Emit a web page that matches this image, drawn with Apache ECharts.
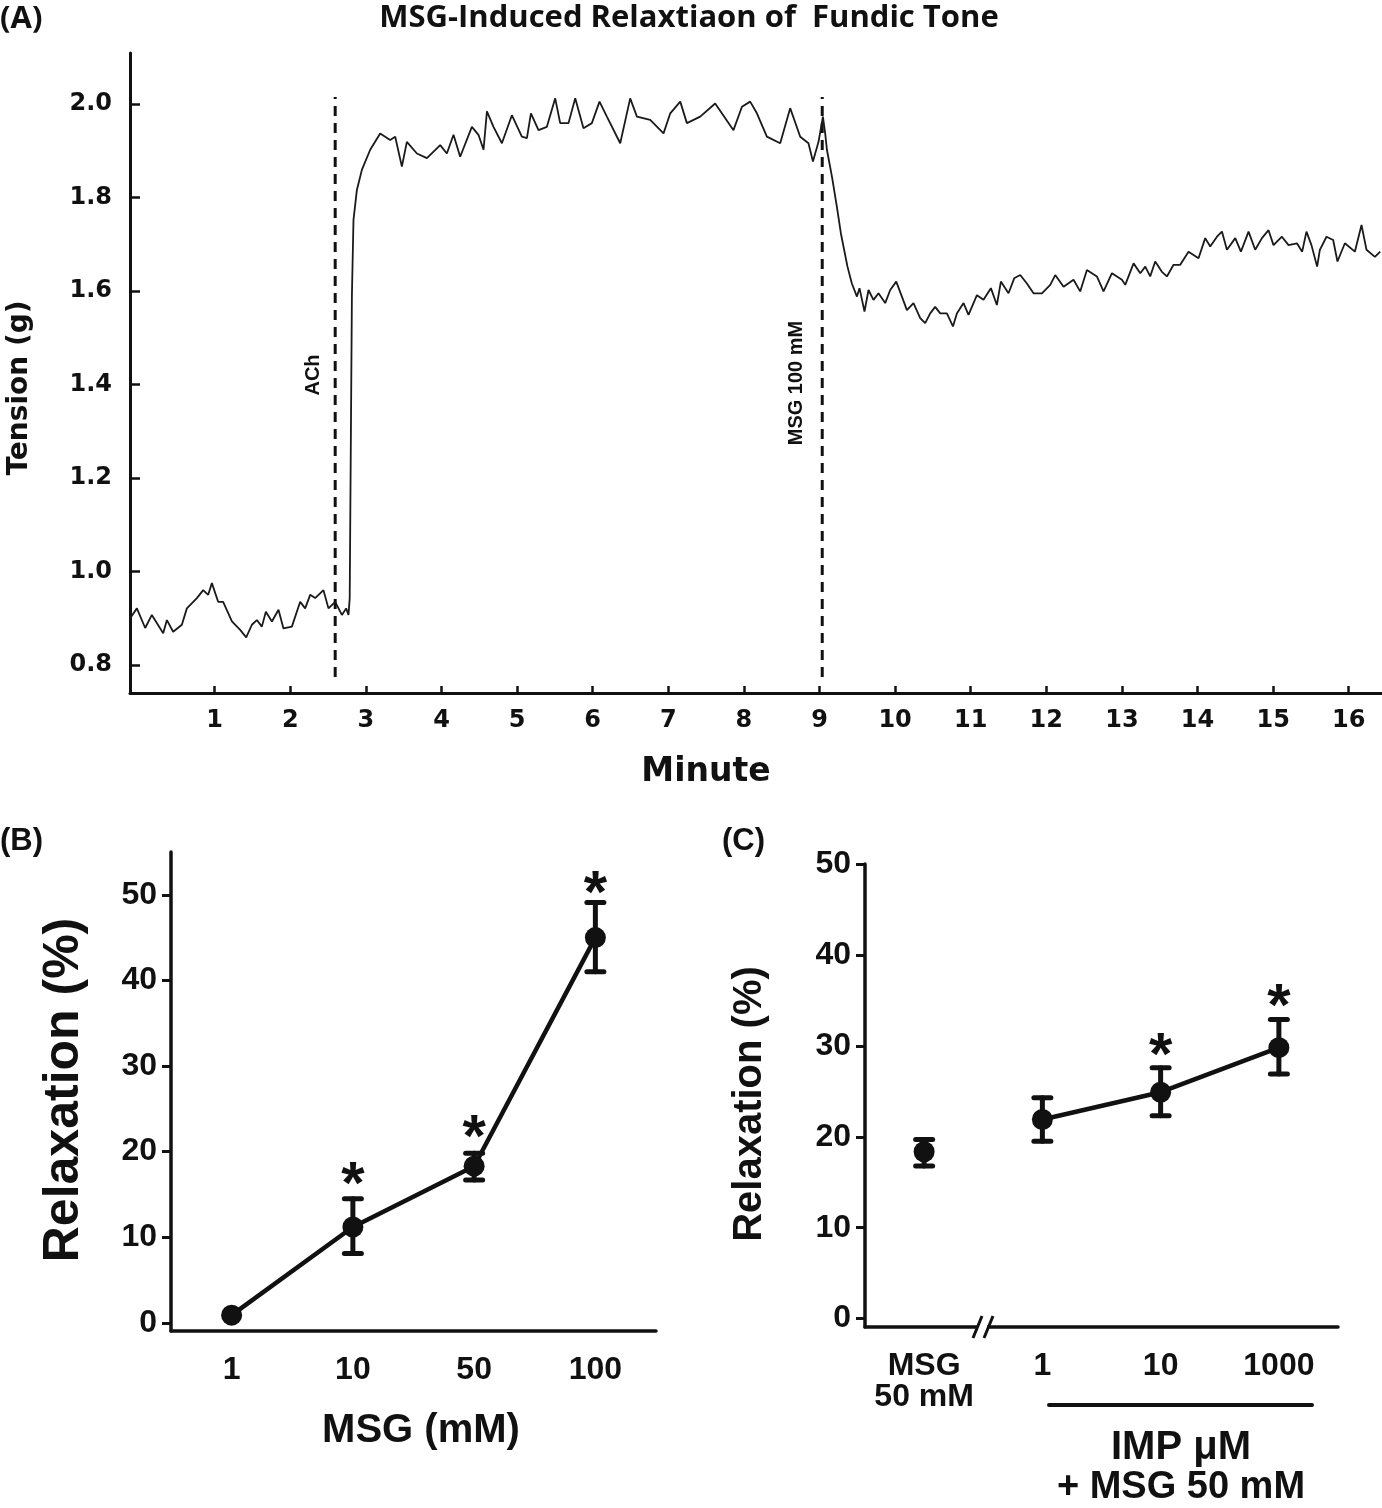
<!DOCTYPE html>
<html><head><meta charset="utf-8">
<script src="https://cdn.jsdelivr.net/npm/echarts@6/dist/echarts.min.js"></script>
<style>html,body{margin:0;padding:0;background:#fff}#c{width:1382px;height:1508px}</style>
</head><body><div id="c"></div>
<script>
// ---------- Panel A: tension trace (minute, g) ----------
const traceSamples = [
[-0.118,0.900],[-0.029,0.921],[0.081,0.879],[0.169,0.907],[0.319,0.868],[0.368,0.896],[0.451,0.871],[0.566,0.886],
[0.632,0.921],[0.765,0.943],[0.848,0.960],[0.914,0.950],[0.963,0.975],[1.046,0.935],[1.112,0.935],[1.228,0.893],
[1.337,0.875],[1.417,0.859],[1.492,0.886],[1.558,0.896],[1.624,0.882],[1.677,0.914],[1.757,0.893],[1.844,0.918],
[1.910,0.878],[2.021,0.882],[2.131,0.935],[2.197,0.921],[2.263,0.950],[2.329,0.943],[2.439,0.960],[2.505,0.921],
[2.594,0.935],[2.683,0.907],[2.739,0.921],[2.770,0.907],[2.786,0.943],[2.815,1.588],[2.836,1.752],[2.881,1.816],
[2.947,1.859],[3.057,1.902],[3.189,1.937],[3.321,1.923],[3.388,1.930],[3.476,1.866],[3.542,1.919],[3.675,1.894],
[3.807,1.884],[3.983,1.912],[4.071,1.894],[4.159,1.934],[4.247,1.887],[4.402,1.951],[4.489,1.934],[4.556,1.902],
[4.601,1.984],[4.688,1.951],[4.799,1.916],[4.931,1.976],[5.063,1.930],[5.130,1.927],[5.183,1.980],[5.283,1.944],
[5.394,1.951],[5.504,2.012],[5.570,1.959],[5.680,1.959],[5.769,2.012],[5.878,1.948],[5.989,1.959],[6.090,2.005],
[6.188,1.973],[6.364,1.916],[6.496,2.012],[6.585,1.973],[6.761,1.966],[6.937,1.937],[7.026,1.980],[7.158,2.005],
[7.246,1.959],[7.422,1.973],[7.620,2.001],[7.862,1.944],[7.974,1.994],[8.083,2.005],[8.172,1.980],[8.304,1.930],
[8.480,1.916],[8.612,1.991],[8.745,1.930],[8.854,1.916],[8.913,1.877],[8.987,1.919],[9.045,1.973],[9.075,1.937],
[9.098,1.902],[9.164,1.845],[9.230,1.780],[9.283,1.723],[9.317,1.695],[9.370,1.652],[9.428,1.616],[9.495,1.588],
[9.529,1.606],[9.595,1.556],[9.648,1.602],[9.714,1.581],[9.780,1.595],[9.869,1.574],[9.935,1.602],[10.015,1.620],
[10.090,1.588],[10.156,1.559],[10.243,1.574],[10.332,1.542],[10.398,1.531],[10.464,1.552],[10.530,1.566],[10.597,1.552],
[10.685,1.552],[10.765,1.524],[10.817,1.552],[10.905,1.574],[10.971,1.549],[11.082,1.591],[11.169,1.581],[11.267,1.606],
[11.346,1.570],[11.399,1.620],[11.500,1.595],[11.575,1.627],[11.655,1.634],[11.743,1.616],[11.831,1.595],[11.942,1.595],
[12.052,1.613],[12.118,1.634],[12.228,1.609],[12.360,1.624],[12.448,1.599],[12.537,1.645],[12.669,1.631],[12.757,1.599],
[12.868,1.638],[13.000,1.624],[13.044,1.613],[13.154,1.659],[13.243,1.638],[13.309,1.652],[13.374,1.631],[13.440,1.663],
[13.529,1.641],[13.595,1.631],[13.683,1.656],[13.771,1.656],[13.881,1.684],[14.013,1.670],[14.102,1.713],[14.168,1.695],
[14.257,1.716],[14.323,1.727],[14.389,1.688],[14.499,1.713],[14.574,1.684],[14.675,1.727],[14.763,1.688],[14.852,1.713],
[14.939,1.730],[15.005,1.698],[15.116,1.716],[15.204,1.698],[15.315,1.702],[15.384,1.684],[15.441,1.727],[15.507,1.698],
[15.582,1.652],[15.618,1.688],[15.706,1.716],[15.794,1.709],[15.851,1.663],[15.949,1.702],[16.081,1.684],[16.169,1.741],
[16.235,1.688],[16.346,1.673],[16.416,1.684]
];
const aMinuteTicks = [1,2,3,4,5,6,7,8,9,10,11,12,13,14,15,16];
const aTensionTicks = [0.8,1.0,1.2,1.4,1.6,1.8,2.0];
const eventMinutes = [2.594, 9.036];
const eventNames = ['ACh', 'MSG 100 mM'];
const eventSpan = [0.774, 2.015];   // tension extent of the dashed markers

// ---------- Panel B ----------
const bCategories = ['1', '10', '50', '100'];
const bMean = [0.9, 11.2, 18.3, 45.0];
const bLow  = [null, 8.1, 16.7, 41.0];
const bHigh = [null, 14.5, 19.8, 49.1];
const bStar = [null, 17.6, 23.1, 51.6];
const bTicks = [0, 10, 20, 30, 40, 50];

// ---------- Panel C ----------
const cCategories = ['MSG\n50 mM', '1', '10', '1000'];
const cMean = [18.35, 21.9, 24.9, 29.8];
const cLow  = [16.8, 19.5, 22.3, 26.9];
const cHigh = [19.7, 24.3, 27.6, 32.9];
const cStar = [null, null, 30.3, 35.6];
const cTicks = [0, 10, 20, 30, 40, 50];

const INK = '#111';
const ARIAL = '"Liberation Sans", Arial, sans-serif';
const DJV = '"DejaVu Sans", sans-serif';

function errSeries(gi, low, high) {
  const data = [];
  low.forEach((l, i) => { if (l != null) data.push([i, l, high[i]]); });
  return {
    type: 'custom', xAxisIndex: gi, yAxisIndex: gi, z: 2, silent: true,
    data: data, encode: { x: 0, y: [1, 2] },
    renderItem: (params, api) => {
      const lo = api.coord([api.value(0), api.value(1)]);
      const hi = api.coord([api.value(0), api.value(2)]);
      const w = 8.5;
      const st = { stroke: INK, lineWidth: 5, lineCap: 'round' };
      return { type: 'group', children: [
        { type: 'line', shape: { x1: lo[0], y1: lo[1], x2: hi[0], y2: hi[1] }, style: st },
        { type: 'line', shape: { x1: lo[0] - w, y1: lo[1], x2: lo[0] + w, y2: lo[1] }, style: st },
        { type: 'line', shape: { x1: hi[0] - w, y1: hi[1], x2: hi[0] + w, y2: hi[1] }, style: st }
      ]};
    }
  };
}
function starSeries(gi, stars) {
  const data = [];
  stars.forEach((v, i) => { if (v != null) data.push([i, v]); });
  return {
    type: 'custom', xAxisIndex: gi, yAxisIndex: gi, z: 5, silent: true,
    data: data, encode: { x: 0, y: 1 },
    renderItem: (params, api) => {
      const p = api.coord([api.value(0), api.value(1)]);
      return { type: 'text', x: p[0], y: p[1] + 14,
        style: { text: '*', fill: INK, font: 'bold 60px "Liberation Sans", Arial, sans-serif',
          align: 'center', verticalAlign: 'middle' } };
    }
  };
}
function catX(gi, cats) {
  return {
    type: 'category', gridIndex: gi, data: cats, boundaryGap: true,
    axisLine: { onZero: false, lineStyle: { color: INK, width: 3.5 } },
    axisTick: { alignWithLabel: true, length: 9, interval: 0, lineStyle: { color: INK, width: 3 } },
    axisLabel: { interval: 0, color: INK, fontFamily: ARIAL, fontWeight: 'bold', fontSize: 32, margin: 24, lineHeight: 31 },
    splitLine: { show: false }
  };
}
function relY(gi, min, max, ticks) {
  return {
    type: 'value', gridIndex: gi, min: min, max: max,
    axisLine: { show: true, onZero: false, lineStyle: { color: INK, width: 3.5 } },
    axisTick: { show: true, length: 9, customValues: ticks, lineStyle: { color: INK, width: 3 } },
    axisLabel: { color: INK, fontFamily: ARIAL, fontWeight: 'bold', fontSize: 32, margin: 14, customValues: ticks },
    splitLine: { show: false }
  };
}

const chart = echarts.init(document.getElementById('c'), null, { renderer: 'canvas' });
const option = {
  animation: false,
  backgroundColor: '#fff',
  grid: [
    { left: 130, top: 53, width: 1252, height: 640 },
    { left: 171, top: 852, width: 485, height: 479 },
    { left: 865, top: 864, width: 473, height: 463 }
  ],
  xAxis: [
    { type: 'value', gridIndex: 0, min: -0.12, max: 16.44,
      axisLine: { onZero: false, lineStyle: { color: INK, width: 3 } },
      axisTick: { inside: true, length: 7, customValues: aMinuteTicks, lineStyle: { color: INK, width: 2.5 } },
      axisLabel: { customValues: aMinuteTicks, color: INK, fontFamily: DJV, fontWeight: 'bold', fontSize: 24, margin: 16 },
      splitLine: { show: false } },
    catX(1, bCategories),
    catX(2, cCategories)
  ],
  yAxis: [
    { type: 'value', gridIndex: 0, min: 0.74, max: 2.109,
      axisLine: { show: true, onZero: false, lineStyle: { color: INK, width: 3 } },
      axisTick: { show: true, inside: true, length: 10, customValues: aTensionTicks, lineStyle: { color: INK, width: 2.5 } },
      axisLabel: { customValues: aTensionTicks, color: INK, fontFamily: DJV, fontWeight: 'bold', fontSize: 24, margin: 18,
        formatter: v => v.toFixed(1) },
      splitLine: { show: false } },
    relY(1, -0.95, 55, bTicks),
    relY(2, -0.92, 50, cTicks)
  ],
  series: [
    { type: 'line', xAxisIndex: 0, yAxisIndex: 0, data: traceSamples, showSymbol: false, silent: true,
      lineStyle: { color: '#1a1a1a', width: 1.8 }, z: 3 },
    ...eventMinutes.map(m => ({
      type: 'line', xAxisIndex: 0, yAxisIndex: 0, showSymbol: false, silent: true, z: 2,
      data: [[m, eventSpan[0]], [m, eventSpan[1]]],
      lineStyle: { color: INK, width: 3, type: [10, 7] }
    })),
    // Panel B
    errSeries(1, bLow, bHigh),
    { type: 'line', xAxisIndex: 1, yAxisIndex: 1, data: bMean, symbol: 'circle', symbolSize: 21, z: 3,
      itemStyle: { color: INK, opacity: 1 }, lineStyle: { color: INK, width: 4.5 }, silent: true },
    starSeries(1, bStar),
    // Panel C
    errSeries(2, cLow, cHigh),
    { type: 'line', xAxisIndex: 2, yAxisIndex: 2, data: cMean.map((v, i) => i === 0 ? '-' : v),
      symbol: 'circle', symbolSize: 21, z: 3, connectNulls: false,
      itemStyle: { color: INK, opacity: 1 }, lineStyle: { color: INK, width: 4.5 }, silent: true },
    { type: 'scatter', xAxisIndex: 2, yAxisIndex: 2, data: cMean.map((v, i) => i === 0 ? v : '-'),
      symbol: 'circle', symbolSize: 21, z: 3, itemStyle: { color: INK, opacity: 1 }, silent: true },
    starSeries(2, cStar)
  ],
  graphic: [
    { type: 'text', x: 0, y: 19, style: { text: '(A)', font: 'bold 31px "Open Sans", sans-serif', fill: INK, verticalAlign: 'middle' } },
    { type: 'text', x: 689, y: 18, style: { text: 'MSG-Induced Relaxtiaon of  Fundic Tone', font: 'bold 31px "Open Sans", sans-serif', fill: INK, align: 'center', verticalAlign: 'middle' } },
    { type: 'text', x: 20, y: 388, rotation: Math.PI / 2, style: { text: 'Tension (g)', font: 'bold 28px "DejaVu Sans", sans-serif', fill: INK, align: 'center', verticalAlign: 'middle' } },
    { type: 'text', x: 706, y: 772, style: { text: 'Minute', font: 'bold 33px "DejaVu Sans", sans-serif', fill: INK, align: 'center', verticalAlign: 'middle' } },
    { type: 'text', x: 313, y: 375, rotation: Math.PI / 2, style: { text: eventNames[0], font: 'bold 20px "Liberation Sans", Arial, sans-serif', fill: INK, align: 'center', verticalAlign: 'middle' } },
    { type: 'text', x: 796, y: 383, rotation: Math.PI / 2, style: { text: eventNames[1], font: 'bold 20px "Liberation Sans", Arial, sans-serif', fill: INK, align: 'center', verticalAlign: 'middle' } },
    { type: 'text', x: 0, y: 841, style: { text: '(B)', font: 'bold 31px "Liberation Sans", Arial, sans-serif', fill: INK, verticalAlign: 'middle' } },
    { type: 'text', x: 722, y: 841, style: { text: '(C)', font: 'bold 31px "Liberation Sans", Arial, sans-serif', fill: INK, verticalAlign: 'middle' } },
    { type: 'text', x: 64, y: 1090, rotation: Math.PI / 2, style: { text: 'Relaxation (%)', font: 'bold 50px "Liberation Sans", Arial, sans-serif', fill: INK, align: 'center', verticalAlign: 'middle' } },
    { type: 'text', x: 421, y: 1431, style: { text: 'MSG (mM)', font: 'bold 40px "Liberation Sans", Arial, sans-serif', fill: INK, align: 'center', verticalAlign: 'middle' } },
    { type: 'text', x: 750, y: 1104, rotation: Math.PI / 2, style: { text: 'Relaxation (%)', font: 'bold 40px "Liberation Sans", Arial, sans-serif', fill: INK, align: 'center', verticalAlign: 'middle' } },
    { type: 'line', shape: { x1: 1049, y1: 1405, x2: 1312, y2: 1405 }, style: { stroke: INK, lineWidth: 4, lineCap: 'round' } },
    { type: 'text', x: 1181, y: 1448, style: { text: 'IMP \u03bcM', font: 'bold 40px "Liberation Sans", Arial, sans-serif', fill: INK, align: 'center', verticalAlign: 'middle' } },
    { type: 'text', x: 1181, y: 1488, style: { text: '+ MSG 50 mM', font: 'bold 38px "Liberation Sans", Arial, sans-serif', fill: INK, align: 'center', verticalAlign: 'middle' } },
    // axis break marks on panel C
    { type: 'rect', shape: { x: 978, y: 1322, width: 9, height: 10 }, style: { fill: '#fff' }, z: 100 },
    { type: 'line', shape: { x1: 973, y1: 1338, x2: 982, y2: 1316 }, style: { stroke: INK, lineWidth: 3 }, z: 101 },
    { type: 'line', shape: { x1: 984, y1: 1338, x2: 993, y2: 1316 }, style: { stroke: INK, lineWidth: 3 }, z: 101 }
  ]
};
chart.setOption(option);
</script></body></html>
